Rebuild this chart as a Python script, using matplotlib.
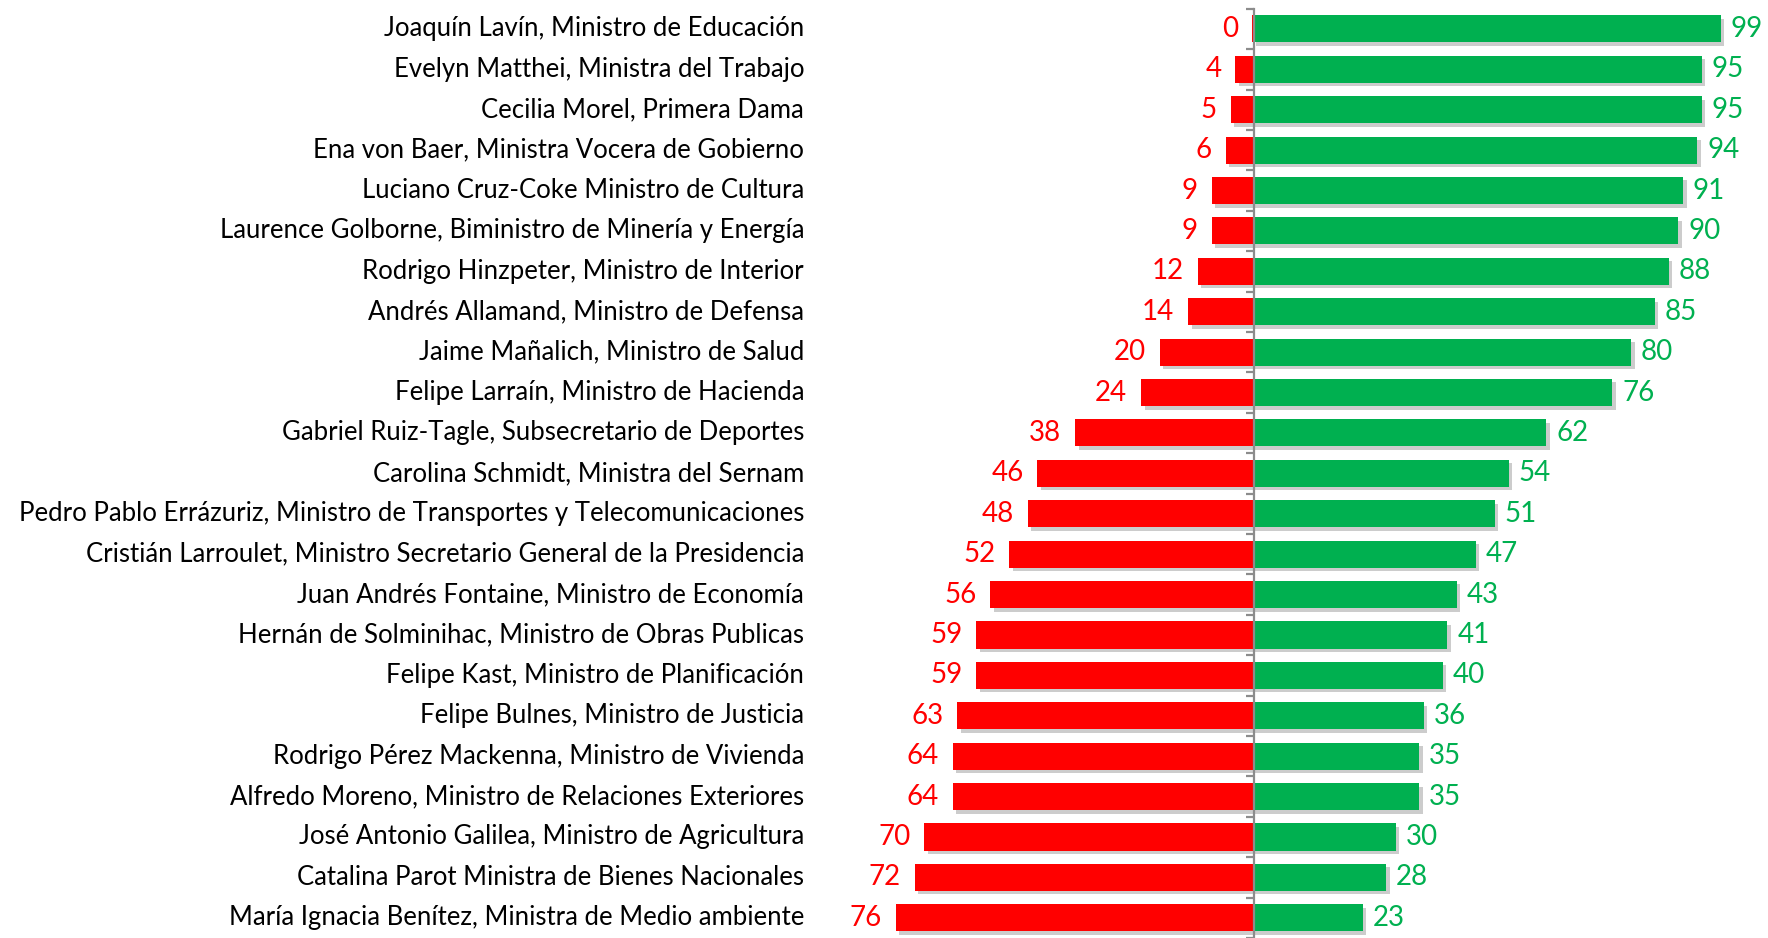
import matplotlib.pyplot as plt
import matplotlib.patheffects as pe
from matplotlib.ticker import FixedLocator, NullLocator

plt.rcParams['font.family'] = ['Lato', 'DejaVu Sans']

# datos
nombres = [
    "Joaquín Lavín, Ministro de Educación",
    "Evelyn Matthei, Ministra del Trabajo",
    "Cecilia Morel, Primera Dama",
    "Ena von Baer, Ministra Vocera de Gobierno",
    "Luciano Cruz-Coke Ministro de Cultura",
    "Laurence Golborne, Biministro de Minería y Energía",
    "Rodrigo Hinzpeter, Ministro de Interior",
    "Andrés Allamand, Ministro de Defensa",
    "Jaime Mañalich, Ministro de Salud",
    "Felipe Larraín, Ministro de Hacienda",
    "Gabriel Ruiz-Tagle, Subsecretario de Deportes",
    "Carolina Schmidt, Ministra del Sernam",
    "Pedro Pablo Errázuriz, Ministro de Transportes y Telecomunicaciones",
    "Cristián Larroulet, Ministro Secretario General de la Presidencia",
    "Juan Andrés Fontaine, Ministro de Economía",
    "Hernán de Solminihac, Ministro de Obras Publicas",
    "Felipe Kast, Ministro de Planificación",
    "Felipe Bulnes, Ministro de Justicia",
    "Rodrigo Pérez Mackenna, Ministro de Vivienda",
    "Alfredo Moreno, Ministro de Relaciones Exteriores",
    "José Antonio Galilea, Ministro de Agricultura",
    "Catalina Parot Ministra de Bienes Nacionales",
    "María Ignacia Benítez, Ministra de Medio ambiente",
]
desaprueba = [0.4, 4, 5, 6, 9, 9, 12, 14, 20, 24, 38, 46, 48, 52, 56, 59, 59, 63, 64, 64, 70, 72, 76]
aprueba = [99, 95, 95, 94, 91, 90, 88, 85, 80, 76, 62, 54, 51, 47, 43, 41, 40, 36, 35, 35, 30, 28, 23]

ROJO = '#FF0000'
VERDE = '#00B050'

fig = plt.figure(figsize=(17.68, 9.38), dpi=100)
ax = fig.add_axes([830 / 1768, 0, 938 / 1768, 1 - 8.7 / 938])

pos = list(range(len(nombres)))
sombra = [pe.SimplePatchShadow(offset=(2.5, -2.5), shadow_rgbFace='#808080', alpha=0.4), pe.Normal()]

b1 = ax.barh(pos, [-v for v in desaprueba], height=0.67, color=ROJO, zorder=2)
b2 = ax.barh(pos, aprueba, height=0.67, color=VERDE, zorder=2)
for b in list(b1) + list(b2):
    b.set_path_effects(sombra)

for i in pos:
    ax.annotate('%.0f' % desaprueba[i], (-desaprueba[i], i), xytext=(-10, 0), textcoords='offset points',
                ha='right', va='center', color=ROJO, fontsize=20)
    ax.annotate('%.0f' % aprueba[i], (aprueba[i], i), xytext=(7, 0), textcoords='offset points',
                ha='left', va='center', color=VERDE, fontsize=20)
    ax.text(-0.0277, i, nombres[i], transform=ax.get_yaxis_transform(), ha='right', va='center',
            fontsize=18.5, color='black')

ax.set_xlim(-90, 109)
ax.set_ylim(len(nombres) - 0.5, -0.5)

# eje vertical en cero
for s in ['top', 'right', 'bottom']:
    ax.spines[s].set_visible(False)
ax.spines['left'].set_position(('data', 0))
ax.spines['left'].set_color('#8C8C8C')
ax.spines['left'].set_linewidth(1.6)
ax.spines['left'].set_zorder(3)
ax.xaxis.set_major_locator(NullLocator())
ax.yaxis.set_major_locator(FixedLocator([p - 0.5 for p in pos] + [len(pos) - 0.5]))
ax.tick_params(axis='y', direction='out', length=6, width=1.6, color='#8C8C8C', labelleft=False)

fig.savefig('out.png', dpi=100)
